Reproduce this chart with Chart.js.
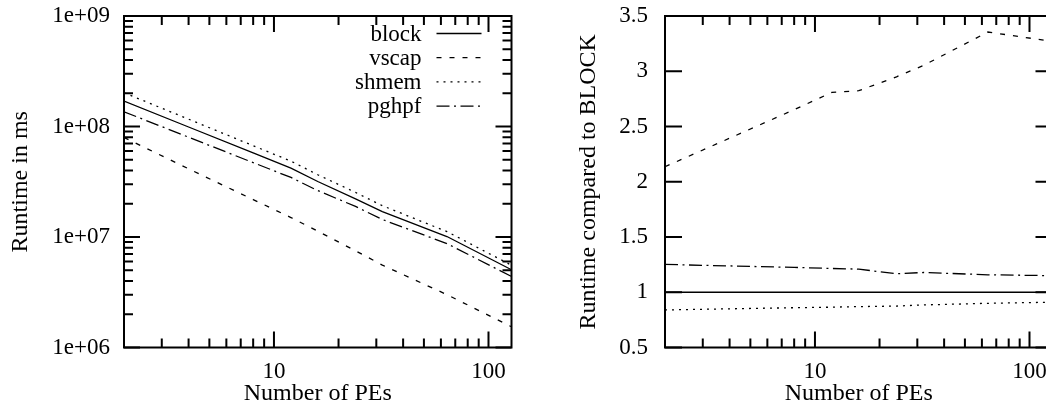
<!DOCTYPE html>
<html>
<head>
<meta charset="utf-8">
<title>Runtime vs number of PEs</title>
<script src="https://cdn.jsdelivr.net/npm/chart.js@4"></script>
<style>
	html, body { margin: 0; padding: 0; background: #fff; overflow: hidden; }
	body { width: 1046px; height: 406px; position: relative; }
	canvas { position: absolute; top: 0; }
	#runtimeChart { left: 0; }
	#ratioChart { left: 541px; }
</style>
</head>
<body>
<canvas id="runtimeChart" width="530" height="406"></canvas>
<canvas id="ratioChart" width="530" height="406"></canvas>
<script>
// number of PEs (x axis of both plots)
const pes = [2, 4, 8, 12, 16, 24, 32, 64, 128];
const seriesNames = ["block", "vscap", "shmem", "pghpf"];

// runtime in ms (left plot)
const runtimeBlock = [1.70e8, 9.9e7, 5.77e7, 4.2e7, 3.18e7, 2.21e7, 1.70e7, 1.01e7, 5.05e6];
const runtimeVscap = [7.96e7, 4.14e7, 2.18e7, 1.5e7, 1.13e7, 7.5e6, 5.57e6, 3.01e6, 1.54e6];
const runtimeShmem = [2.02e8, 1.165e8, 6.7e7, 4.86e7, 3.66e7, 2.53e7, 1.92e7, 1.12e7, 5.55e6];
const runtimePghpf = [1.36e8, 8.0e7, 4.71e7, 3.46e7, 2.63e7, 1.89e7, 1.44e7, 8.72e6, 4.39e6];

// runtime compared to block (right plot)
const ratioBlock = [1, 1, 1, 1, 1, 1, 1, 1, 1];
const ratioVscap = [2.136, 2.394, 2.652, 2.809, 2.824, 2.95, 3.052, 3.355, 3.27];
const ratioShmem = [0.84, 0.85, 0.86, 0.865, 0.87, 0.875, 0.885, 0.90, 0.91];
const ratioPghpf = [1.252, 1.238, 1.225, 1.215, 1.209, 1.167, 1.179, 1.158, 1.15];

// tick labels
const xTickLabels = [10, 100];
const runtimeTickLabels = [1e6, 1e7, 1e8, 1e9];
const ratioTickLabels = [0.5, 1, 1.5, 2, 2.5, 3, 3.5];

const serif = "'Liberation Serif', 'DejaVu Serif', serif";
Chart.defaults.font.family = serif;
Chart.defaults.color = "#000";

// gnuplot style line types
const lineStyles = [[], [5, 8], [2, 5], [13, 4.5, 2, 4.5]];

function makeDatasets(seriesList) {
	return seriesList.map((values, i) => ({
		label: seriesNames[i],
		data: pes.map((p, j) => ({ x: p, y: values[j] })),
		borderColor: "#000",
		borderWidth: 1.3,
		borderDash: lineStyles[i],
		borderCapStyle: "butt",
		pointRadius: 0,
		fill: false,
		tension: 0,
	}));
}

// minor + major positions on a log axis
function logTicks(min, max) {
	const out = [];
	for (let e = Math.floor(Math.log10(min)); e <= Math.ceil(Math.log10(max)); e++) {
		for (let m = 1; m < 10; m++) {
			const v = m * Math.pow(10, e);
			if (v >= min * 0.9999 && v <= max * 1.0001) out.push({ v: v, major: m === 1 });
		}
	}
	return out;
}

function tickList(scale) {
	if (scale.type === "logarithmic") return logTicks(scale.min, scale.max);
	return scale.ticks.map((t) => ({ v: t.value, major: true }));
}

// frame with inward ticks on all four sides
const framePlugin = {
	id: "frame",
	afterDatasetsDraw(chart, args, opts) {
		const { ctx, chartArea: a, scales } = chart;
		ctx.save();
		ctx.strokeStyle = "#000";
		ctx.lineWidth = 2;
		ctx.setLineDash([]);
		ctx.beginPath();
		for (const t of tickList(scales.x)) {
			const px = scales.x.getPixelForValue(t.v);
			const len = t.major ? opts.major : opts.minor;
			ctx.moveTo(px, a.bottom);
			ctx.lineTo(px, a.bottom - len);
			ctx.moveTo(px, a.top);
			ctx.lineTo(px, a.top + len);
		}
		for (const t of tickList(scales.y)) {
			const py = scales.y.getPixelForValue(t.v);
			const len = t.major ? opts.yMajor : opts.minor;
			ctx.moveTo(a.left, py);
			ctx.lineTo(a.left + len, py);
			ctx.moveTo(a.right, py);
			ctx.lineTo(a.right - len, py);
		}
		ctx.stroke();
		ctx.strokeRect(a.left, a.top, a.right - a.left, a.bottom - a.top);
		ctx.restore();
	},
};

// key in the top right corner: text, then line sample
const keyPlugin = {
	id: "key",
	afterDraw(chart, args, opts) {
		if (!opts.show) return;
		const { ctx, chartArea: a } = chart;
		ctx.save();
		ctx.font = "23px " + serif;
		ctx.textAlign = "right";
		ctx.textBaseline = "middle";
		ctx.fillStyle = "#000";
		ctx.strokeStyle = "#000";
		chart.data.datasets.forEach((ds, i) => {
			const y = a.top + 17.5 + i * 24.2;
			ctx.fillText(ds.label, a.right - 90, y + 1);
			ctx.setLineDash(ds.borderDash);
			ctx.lineWidth = ds.borderWidth;
			ctx.beginPath();
			ctx.moveTo(a.right - 75, y);
			ctx.lineTo(a.right - 30, y);
			ctx.stroke();
		});
		ctx.restore();
	},
};

function makeChart(id, datasets, yScale, yTitle, titlePad, labelPad, showKey) {
	const ctx = document.getElementById(id).getContext("2d");
	return new Chart(ctx, {
		type: "line",
		data: { datasets: datasets },
		plugins: [framePlugin, keyPlugin],
		options: {
			responsive: false,
			animation: false,
			layout: { padding: { top: 16, right: 18.5, left: 0, bottom: 0 } },
			plugins: {
				legend: { display: false },
				tooltip: { enabled: false },
				frame: { major: 16, minor: 9, yMajor: yScale.type === "linear" ? 17 : 16 },
				key: { show: showKey },
			},
			scales: {
				x: {
					type: "logarithmic",
					min: 2,
					max: 128,
					afterFit: (s) => {
						s.height = 58.5;
						s.paddingLeft = 0;
						s.paddingRight = 0;
					},
					grid: { display: false, drawTicks: false },
					border: { display: false },
					ticks: {
						autoSkip: false,
						maxRotation: 0,
						padding: 11,
						font: { size: 23 },
						callback: (v) => (xTickLabels.includes(v) ? String(v) : ""),
					},
					title: {
						display: true,
						text: "Number of PEs",
						font: { size: 24, lineHeight: 1 },
						padding: { top: 0, bottom: 0.5 },
					},
				},
				y: Object.assign({
					afterFit: (s) => {
						s.width = 124;
						s.paddingTop = 0;
						s.paddingBottom = 0;
					},
					grid: { display: false, drawTicks: false },
					border: { display: false },
					title: {
						display: true,
						text: yTitle,
						font: { size: 24, lineHeight: 1 },
						padding: { top: titlePad, bottom: 0 },
					},
				}, yScale, {
					ticks: Object.assign({ autoSkip: false, padding: labelPad, font: { size: 23 } }, yScale.ticks),
				}),
			},
		},
	});
}

makeChart(
	"runtimeChart",
	makeDatasets([runtimeBlock, runtimeVscap, runtimeShmem, runtimePghpf]),
	{
		type: "logarithmic",
		min: 1e6,
		max: 1e9,
		ticks: {
			callback: (v) => {
				if (!runtimeTickLabels.includes(v)) return "";
				const e = Math.round(Math.log10(v));
				return "1e+" + String(e).padStart(2, "0");
			},
		},
	},
	"Runtime in ms",
	8.5,
	14,
	true
);

makeChart(
	"ratioChart",
	makeDatasets([ratioBlock, ratioVscap, ratioShmem, ratioPghpf]),
	{
		type: "linear",
		min: 0.5,
		max: 3.5,
		ticks: {
			stepSize: 0.5,
			callback: (v) => (ratioTickLabels.includes(v) ? String(v) : ""),
		},
	},
	"Runtime compared to BLOCK",
	36,
	17,
	false
);
</script>
</body>
</html>
